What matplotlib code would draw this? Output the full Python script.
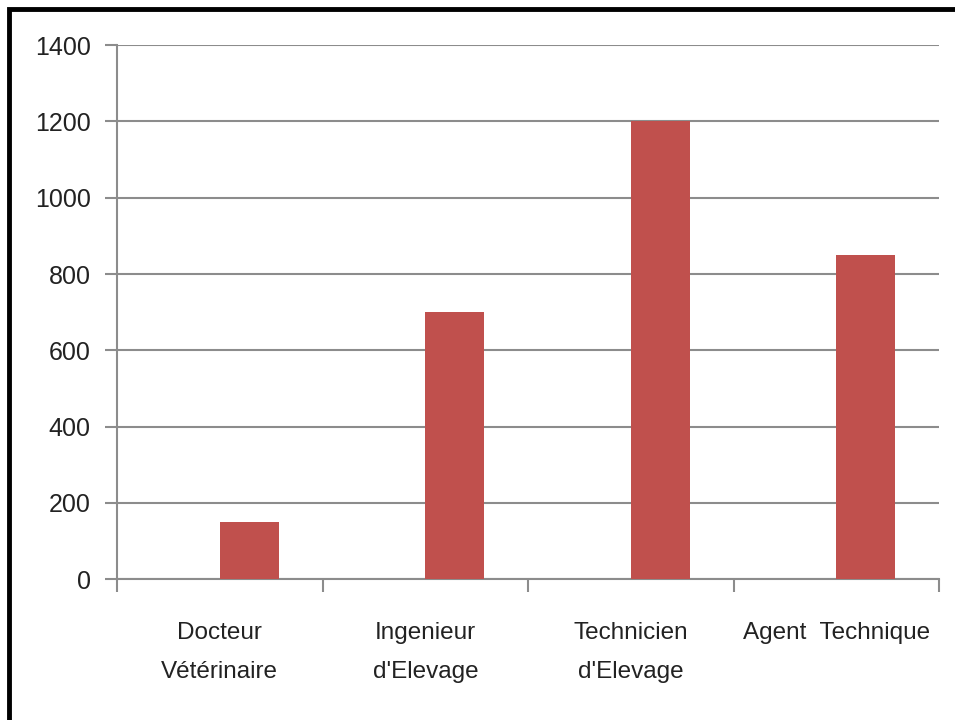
import numpy as np
import matplotlib.pyplot as plt
from matplotlib.patches import Rectangle

# Chart data
categories = ['Docteur\nVétérinaire', "Ingenieur\nd'Elevage",
              "Technicien\nd'Elevage", 'Agent  Technique']
values = [150, 700, 1200, 850]
yticks = [0, 200, 400, 600, 800, 1000, 1200, 1400]

plt.rcParams['font.family'] = ['Liberation Sans', 'DejaVu Sans']

fig = plt.figure(figsize=(9.55, 7.2), dpi=100)
ax = fig.add_axes([0.1225, 0.1954, 0.861, 0.742])

grid_col = '#8c8c8c'
bar_w = 1 / 3.5
x = np.arange(len(categories))
ax.bar(x + bar_w / 2, values, width=bar_w, color='#C0504D', zorder=3)

ax.set_xlim(-0.5, len(categories) - 0.5)
ax.set_ylim(0, 1400)
ax.set_yticks(yticks)
ax.set_yticklabels([str(v) for v in yticks], fontsize=18, color='#222222')
ax.yaxis.grid(True, color=grid_col, linewidth=1.5, zorder=0)

# category labels at centres, tick marks at boundaries
ax.set_xticks(x)
ax.set_xticklabels(categories, fontsize=17.5, color='#222222', linespacing=1.95)
ax.tick_params(axis='x', length=0, pad=31)
ax.set_xticks(np.arange(len(categories) + 1) - 0.5, minor=True)
ax.tick_params(axis='x', which='minor', length=9, width=1.5, color=grid_col)
ax.tick_params(axis='y', length=9, width=1.5, color=grid_col, pad=10)

for s in ['top', 'right']:
    ax.spines[s].set_visible(False)
for s in ['left', 'bottom']:
    ax.spines[s].set_color(grid_col)
    ax.spines[s].set_linewidth(1.5)

# black frame around the slide, cut at right and bottom
fig.patches.append(Rectangle((9 / 955, -0.1), 1.2, 1 - 9 / 720 + 0.1,
                             transform=fig.transFigure, fill=False,
                             edgecolor='black', linewidth=3.5))

fig.savefig('out.png', dpi=100)
